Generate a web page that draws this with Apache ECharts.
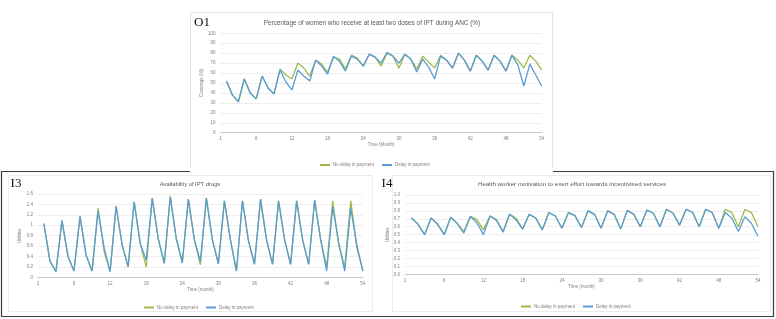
<!DOCTYPE html>
<html>
<head>
<meta charset="utf-8">
<script src="https://cdn.jsdelivr.net/npm/echarts@6/dist/echarts.min.js"></script>
<style>
html,body{margin:0;padding:0;background:#fff;}
#c{width:776px;height:319px;}
</style>
</head>
<body>
<div id="c"></div>
<script>
// ---- data ----
const months = [1,2,3,4,5,6,7,8,9,10,11,12,13,14,15,16,17,18,19,20,21,22,23,24,25,26,27,
  28,29,30,31,32,33,34,35,36,37,38,39,40,41,42,43,44,45,46,47,48,49,50,51,52,53,54];
const xTickLabels = ['1','6','12','18','24','30','36','42','48','54'];
const seriesNames = ['No delay in payment','Delay in payment'];

// O1: Percentage of women who receive at least two doses of IPT during ANC (%)
const o1NoDelay = [52,38,31,54,40,34,57,45,39,64,58,54,70,65,57,73,69,61,76,74,64,78,75,67,
  79,76,67,80,77,65,79,74,64,77,71,65,78,73,65,80,73,62,78,72,63,78,72,62,78,73,65,78,72,63];
const o1Delay   = [52,38,31,54,40,34,57,45,39,63,51,43,63,57,52,73,67,59,77,72,62,77,74,67,
  79,76,70,81,77,70,79,74,61,74,66,54,77,73,65,80,73,62,78,72,63,78,72,62,78,68,47,69,58,47];

// I3: Availability of IPT drugs
const i3NoDelay = [1.03,0.31,0.11,1.09,0.40,0.12,1.17,0.43,0.12,1.33,0.50,0.11,1.37,0.62,0.20,1.45,0.65,0.20,
  1.52,0.74,0.27,1.55,0.74,0.28,1.50,0.73,0.24,1.52,0.72,0.26,1.47,0.72,0.12,1.47,0.70,0.25,
  1.50,0.72,0.25,1.47,0.72,0.25,1.47,0.72,0.25,1.48,0.72,0.20,1.47,0.62,0.20,1.47,0.57,0.14];
const i3Delay   = [1.03,0.31,0.11,1.09,0.40,0.12,1.17,0.43,0.12,1.27,0.57,0.11,1.37,0.62,0.20,1.45,0.65,0.33,
  1.52,0.74,0.27,1.55,0.74,0.28,1.50,0.73,0.30,1.52,0.72,0.26,1.47,0.72,0.12,1.47,0.70,0.25,
  1.50,0.72,0.25,1.47,0.72,0.25,1.47,0.72,0.25,1.48,0.72,0.12,1.35,0.66,0.12,1.33,0.62,0.12];

// I4: Health worker motivation to exert effort towards incentivised services
const i4NoDelay = [0.71,0.63,0.50,0.71,0.63,0.50,0.72,0.64,0.54,0.73,0.69,0.56,0.735,0.69,0.54,0.756,0.71,0.57,
  0.756,0.71,0.56,0.777,0.735,0.58,0.777,0.74,0.59,0.80,0.756,0.58,0.80,0.756,0.57,0.806,0.756,0.60,
  0.81,0.77,0.60,0.82,0.77,0.62,0.82,0.78,0.60,0.82,0.777,0.58,0.82,0.777,0.60,0.82,0.777,0.60];
const i4Delay   = [0.71,0.63,0.50,0.71,0.63,0.50,0.72,0.64,0.52,0.73,0.65,0.50,0.735,0.68,0.53,0.756,0.685,0.57,
  0.756,0.71,0.56,0.777,0.735,0.58,0.777,0.74,0.59,0.80,0.756,0.58,0.80,0.756,0.57,0.806,0.756,0.60,
  0.81,0.77,0.60,0.82,0.77,0.62,0.82,0.78,0.60,0.82,0.777,0.58,0.78,0.706,0.54,0.727,0.64,0.48];

// ---- chart ----
const GREEN = '#9bbb4a', BLUE = '#5b9bd5';
const FONT = 'Liberation Sans';
const pair = vals => months.map((m, i) => [m, vals[i]]);

function xAx(gi, name, nameGap) {
  return {
    type: 'value', gridIndex: gi, min: 0, max: 54, interval: 6,
    axisLine: {show: true, lineStyle: {color: '#bfbfbf', width: 0.8}},
    axisTick: {show: false}, splitLine: {show: false},
    axisLabel: {fontSize: 4.5, color: '#7f7f7f', fontFamily: FONT, margin: 4,
      formatter: v => xTickLabels[Math.round(v / 6)]},
    name: name, nameLocation: 'middle', nameGap: nameGap,
    nameTextStyle: {fontSize: 4.5, color: '#7f7f7f', fontFamily: FONT}
  };
}
function yAx(gi, max, interval, name, nameGap, fmt) {
  return {
    type: 'value', gridIndex: gi, min: 0, max: max, interval: interval,
    axisLine: {show: false}, axisTick: {show: false},
    splitLine: {show: true, lineStyle: {color: '#e3e3e3', width: 0.6}},
    axisLabel: {fontSize: 4.5, color: '#7f7f7f', fontFamily: FONT, margin: 5, formatter: fmt},
    name: name, nameLocation: 'middle', nameGap: nameGap, nameRotate: 90,
    nameTextStyle: {fontSize: 4.5, color: '#7f7f7f', fontFamily: FONT}
  };
}
function line(name, gi, vals, color, z) {
  return {
    name: name, type: 'line', xAxisIndex: gi, yAxisIndex: gi, data: pair(vals),
    showSymbol: false, symbol: 'none', smooth: false, z: z,
    lineStyle: {color: color, width: 1.3}, itemStyle: {color: color},
    emphasis: {disabled: true}, animation: false
  };
}
function legend(left, top) {
  return {
    left: left, top: top, orient: 'horizontal', itemGap: 8, itemWidth: 10, itemHeight: 2,
    icon: 'rect', data: seriesNames,
    textStyle: {fontSize: 4.5, color: '#7f7f7f', fontFamily: FONT, padding: [0, 0, 0, -2]}
  };
}
function txt(x, y, text, size, family, color, weight) {
  return {type: 'text', x: x, y: y, silent: true,
    style: {text: text, fontSize: size, fontFamily: family, fill: color, fontWeight: weight || 'normal',
      textAlign: 'center', textVerticalAlign: 'middle'}};
}
function box(x, y, w, h, color, lw) {
  return {type: 'rect', shape: {x: x, y: y, width: w, height: h}, silent: true, z: -1,
    style: {fill: null, stroke: color, lineWidth: lw}};
}

const chart = echarts.init(document.getElementById('c'), null, {renderer: 'canvas'});
chart.setOption({
  animation: false,
  backgroundColor: '#fff',
  grid: [
    {left: 220.5, top: 33.3, width: 321.2, height: 99.4},
    {left: 37.9, top: 194, width: 324.9, height: 83.3},
    {left: 405, top: 195, width: 353, height: 79.3}
  ],
  xAxis: [xAx(0, 'Time (Month)', 9), xAx(1, 'Time (month)', 9), xAx(2, 'Time (month)', 9)],
  yAxis: [
    yAx(0, 100, 10, 'Coverage (%)', 12),
    yAx(1, 1.6, 0.2, 'Utilities', 11),
    yAx(2, 1, 0.1, 'Utilities', 11, v => v.toFixed(1))
  ],
  legend: [legend(315, 157.5), legend(139, 300), legend(516, 299)],
  series: [
    line(seriesNames[0], 0, o1NoDelay, GREEN, 2),
    line(seriesNames[1], 0, o1Delay, BLUE, 3),
    line(seriesNames[0], 1, i3NoDelay, GREEN, 2),
    line(seriesNames[1], 1, i3Delay, BLUE, 3),
    line(seriesNames[0], 2, i4NoDelay, GREEN, 2),
    line(seriesNames[1], 2, i4Delay, BLUE, 3)
  ],
  graphic: [
    box(1.5, 171.5, 772, 145, '#3a3a3a', 1.2),
    box(190.5, 12.5, 362, 156, '#d9d9d9', 0.8),
    box(8.5, 175.5, 364, 136, '#e6e6e6', 0.8),
    box(392.5, 175.5, 378, 136, '#e6e6e6', 0.8),
    {type: 'rect', shape: {x: 190, y: 168, width: 363, height: 4}, style: {fill: '#fff'}, silent: true, z: 0},
    txt(202, 23, 'O1', 13, 'Liberation Serif', '#111'),
    txt(16, 184, 'I3', 13, 'Liberation Serif', '#111'),
    txt(387, 184, 'I4', 13, 'Liberation Serif', '#111'),
    txt(372, 23, 'Percentage of women who receive at least two doses of IPT during ANC (%)', 6.4, FONT, '#595959'),
    txt(190, 184.5, 'Availability of IPT drugs', 5.8, FONT, '#595959'),
    txt(572, 184, 'Health worker motivation to exert effort towards incentivised services', 6.2, FONT, '#595959')
  ]
});
</script>
</body>
</html>
